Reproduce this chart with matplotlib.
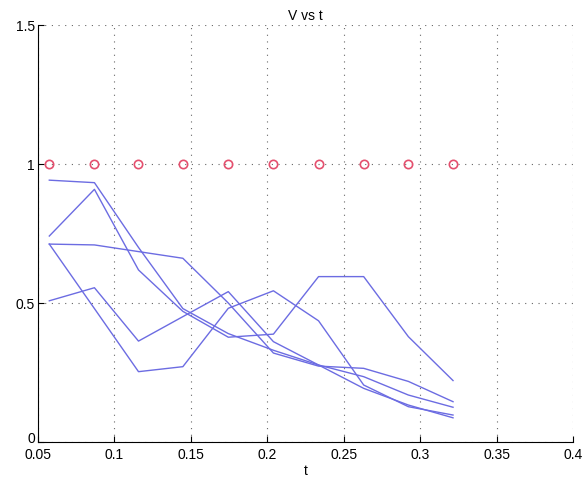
import numpy as np
import matplotlib
matplotlib.use("Agg")
import matplotlib.pyplot as plt
import matplotlib.transforms as mtransforms

plt.rcParams["font.family"] = ["Liberation Sans", "DejaVu Sans"]
plt.rcParams["font.size"] = 10

# sample times (one column of points per time)
t = [0.0575, 0.087, 0.1158, 0.1448, 0.1745, 0.204, 0.2335, 0.263, 0.2922, 0.3214]

# five V traces
v1 = [0.942, 0.933, 0.700, 0.480, 0.390, 0.330, 0.277, 0.235, 0.169, 0.125]
v2 = [0.741, 0.909, 0.619, 0.470, 0.377, 0.388, 0.595, 0.595, 0.379, 0.221]
v3 = [0.712, 0.709, 0.685, 0.661, 0.500, 0.320, 0.273, 0.265, 0.218, 0.145]
v4 = [0.508, 0.555, 0.363, 0.451, 0.541, 0.361, 0.277, 0.193, 0.133, 0.087]
v5 = [0.712, 0.480, 0.253, 0.271, 0.481, 0.544, 0.436, 0.205, 0.127, 0.097]

# reference level
v_ref = [1, 1, 1, 1, 1, 1, 1, 1, 1, 1]

fig = plt.figure(figsize=(5.82, 4.82), dpi=100)
ax = fig.add_axes([0.065, 0.083, 0.92, 0.865])

for v in [v1, v2, v3, v4, v5]:
    ax.plot(t, v, color="#6c6ce2", linewidth=1.0)

ax.plot(t, v_ref, linestyle="none", marker="o", markersize=6,
        markerfacecolor="none", markeredgecolor="#e4506e", markeredgewidth=1.2)

ax.set_xlim(0.05, 0.4)
ax.set_ylim(0, 1.5)
ax.set_xticks(np.arange(0.05, 0.401, 0.05))
ax.set_xticklabels(["0.05", "0.1", "0.15", "0.2", "0.25", "0.3", "0.35", "0.4"])
ax.set_yticks([0, 0.5, 1, 1.5])
ax.set_yticklabels(["0", "0.5", "1", "1.5"])

ax.grid(True, linestyle=(0, (1, 5)), color="#666666", linewidth=0.8)
ax.spines["top"].set_visible(False)
ax.spines["right"].set_visible(False)
ax.tick_params(direction="in", length=4, labelsize=10)
ax.tick_params(axis="x", pad=4)
ax.tick_params(axis="y", pad=2)

# lift the "0" label a little, as in the original
lbl0 = ax.get_yticklabels()[0]
lbl0.set_transform(lbl0.get_transform() +
                   mtransforms.ScaledTranslation(0, 4 / 100, fig.dpi_scale_trans))

ax.set_title("V vs t", fontsize=10, pad=4)
ax.set_xlabel("t", fontsize=10, labelpad=2)

fig.savefig("out.png", dpi=100)
